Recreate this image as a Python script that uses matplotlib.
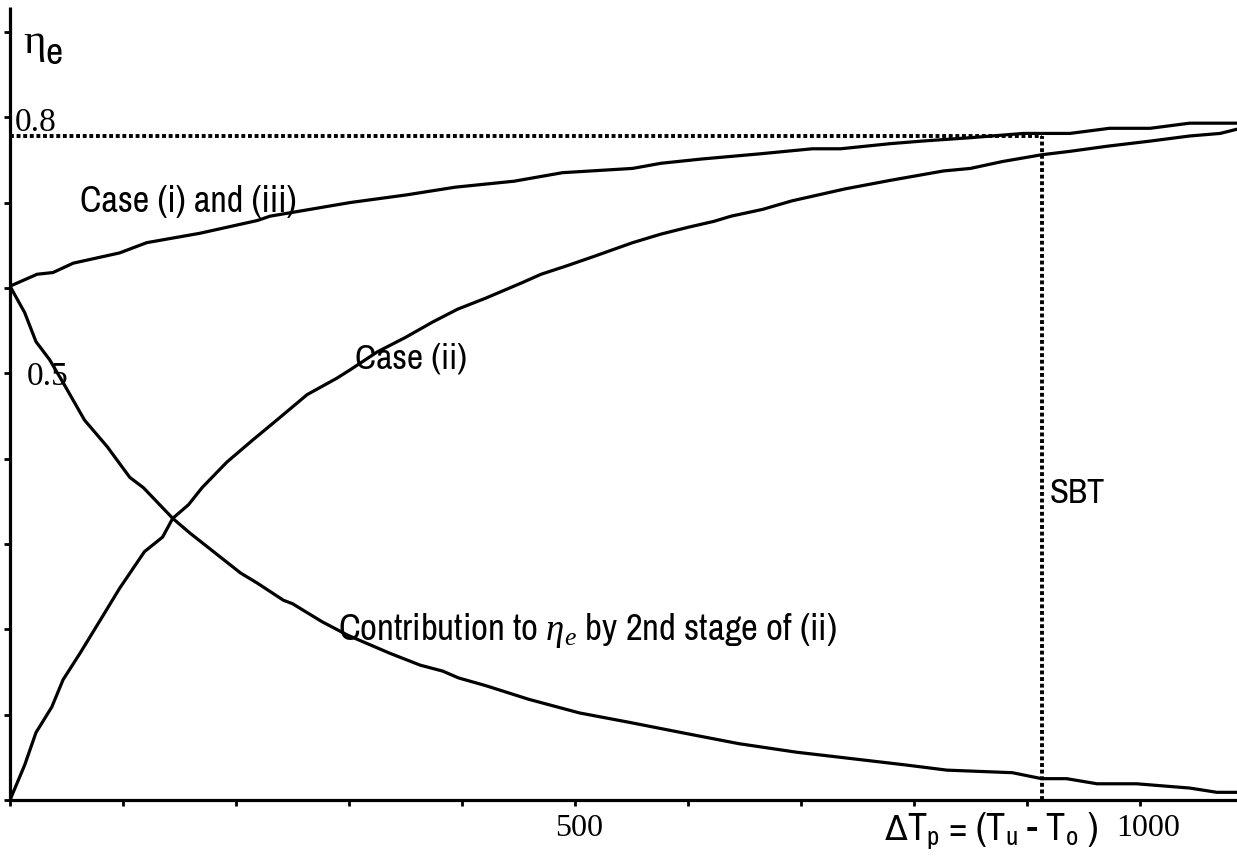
import matplotlib
matplotlib.use("Agg")
import matplotlib.pyplot as plt
from matplotlib import font_manager

# ---- data ----
case13_x = [0, 24, 38, 56, 97, 121, 168, 219, 230, 301, 351, 394, 446, 489, 551, 576, 612, 663,
            710, 735, 779, 807, 850, 897, 938, 973, 1009, 1044, 1086]
case13_y = [0.602, 0.616, 0.618, 0.629, 0.641, 0.653, 0.664, 0.679, 0.684, 0.700, 0.709, 0.718,
            0.725, 0.735, 0.740, 0.746, 0.751, 0.757, 0.763, 0.763, 0.769, 0.772, 0.776, 0.781,
            0.781, 0.787, 0.787, 0.793, 0.793]

case2_x = [0, 13, 23, 37, 47, 62, 80, 97, 119, 135, 144, 158, 170, 192, 215, 236, 263, 289, 301,
           325, 350, 374, 396, 421, 453, 470, 493, 517, 551, 576, 600, 623, 638, 666, 692, 739,
           779, 826, 850, 878, 913, 938, 971, 1009, 1044, 1071, 1086]
case2_y = [0.0, 0.041, 0.079, 0.109, 0.141, 0.172, 0.211, 0.248, 0.291, 0.308, 0.330, 0.346,
           0.366, 0.396, 0.422, 0.445, 0.475, 0.494, 0.504, 0.525, 0.542, 0.560, 0.575, 0.588,
           0.606, 0.616, 0.626, 0.637, 0.653, 0.663, 0.671, 0.678, 0.684, 0.692, 0.702, 0.716,
           0.726, 0.737, 0.740, 0.748, 0.756, 0.760, 0.766, 0.772, 0.778, 0.781, 0.786]

contrib_x = [0, 13, 23, 35, 47, 66, 86, 106, 118, 144, 159, 204, 219, 242, 250, 276, 299, 336,
             363, 383, 397, 421, 459, 504, 548, 598, 645, 696, 735, 793, 829, 887, 913, 935, 962,
             997, 1044, 1068, 1086]
contrib_y = [0.602, 0.571, 0.537, 0.516, 0.489, 0.445, 0.414, 0.378, 0.366, 0.330, 0.313, 0.266,
             0.254, 0.234, 0.230, 0.209, 0.193, 0.172, 0.158, 0.151, 0.143, 0.134, 0.118, 0.102,
             0.091, 0.078, 0.066, 0.056, 0.050, 0.041, 0.035, 0.032, 0.025, 0.025, 0.019, 0.019,
             0.014, 0.009, 0.009]

sbt_x = 913
sbt_y = 0.778

x_ticks = list(range(0, 1100, 100))
y_ticks = [round(0.1 * i, 1) for i in range(0, 10)]

# ---- fonts ----
avail = {f.name for f in font_manager.fontManager.ttflist}
narrow = 'Roboto'
for cand in ['Liberation Sans Narrow', 'Arial Narrow', 'Archivo Narrow', 'PT Sans Narrow',
             'Roboto Condensed', 'IBM Plex Sans Condensed', 'Open Sans Condensed']:
    if cand in avail:
        narrow = cand
        break
serif = 'Liberation Serif'

plt.rcParams['mathtext.fontset'] = 'custom'
plt.rcParams['mathtext.rm'] = narrow
plt.rcParams['mathtext.it'] = 'Liberation Serif:italic'
plt.rcParams['mathtext.bf'] = 'Liberation Serif:bold'
plt.rcParams['mathtext.sf'] = narrow

W, H = 1237, 856
fig = plt.figure(figsize=(W / 100, H / 100), dpi=100)
ax = fig.add_axes([10 / W, (H - 800) / H, (W - 10) / W, (800 - 7) / H])

xmax = (W - 10) / 1.13
ymax = (800 - 7) / 853.5
ax.set_xlim(0, xmax)
ax.set_ylim(0, ymax)

for s in ['top', 'right']:
    ax.spines[s].set_visible(False)
for s in ['left', 'bottom']:
    ax.spines[s].set_linewidth(2.3)
    ax.spines[s].set_capstyle('butt')

ax.set_xticks(x_ticks)
ax.set_yticks(y_ticks)
ax.set_xticklabels([])
ax.set_yticklabels([])
ax.tick_params(direction='out', length=4, width=2.0)

lw = 2.3
ax.plot(case13_x, case13_y, color='black', lw=lw, solid_joinstyle='round')
ax.plot(case2_x, case2_y, color='black', lw=lw, solid_joinstyle='round')
ax.plot(contrib_x, contrib_y, color='black', lw=lw, solid_joinstyle='round')

dots = (0, (1.0, 0.7))
ax.plot([0, sbt_x], [sbt_y, sbt_y], color='black', lw=2.8, linestyle=dots, dash_capstyle='butt')
ax.plot([sbt_x, sbt_x], [0, sbt_y], color='black', lw=2.8, linestyle=dots, dash_capstyle='butt')

# ---- text helpers (pixel positions from top-left of the picture) ----
renderer = fig.canvas.get_renderer()


def px_text(x0, x1, baseline, s, family, size, fit=True, **kw):
    """Place text starting at pixel x0 with its baseline at pixel row `baseline`;
    if fit, scale font so it ends near x1."""
    t = fig.text(x0 / W, (H - baseline) / H, s, family=family, fontsize=size,
                 ha='left', va='baseline', **kw)
    if fit:
        for _ in range(3):
            bb = t.get_window_extent(renderer=renderer)
            if bb.width > 0:
                t.set_fontsize(t.get_fontsize() * (x1 - x0) / bb.width)
    return t


# tick-value labels (serif)
px_text(15, 60, 131, '0.8', serif, 24, fit=False)
px_text(27, 68, 385, '0.5', serif, 24, fit=False)
px_text(555, 602, 836, '500', serif, 23, fit=False)
px_text(1116, 1175, 836, '1000', serif, 23, fit=False)

# y axis name
px_text(23, 45, 53, 'η', serif, 31, fit=False)
px_text(45, 62, 64, 'e', narrow, 27, fit=False)

# curve labels
px_text(80, 297, 212, 'Case (i) and (iii)', narrow, 26)
px_text(355, 467, 368, 'Case (ii)', narrow, 26)
px_text(1050, 1098, 503, 'SBT', narrow, 25, fit=False)
px_text(338, 837, 640, r'Contribution to $\eta_e$ by 2nd stage of (ii)', narrow, 26)

# x axis name
px_text(885, 905, 840, 'Δ', 'DejaVu Sans', 24, fit=False)
px_text(907, 1098, 840, r'T$_\mathrm{p}$ = (T$_\mathrm{u}$ - T$_\mathrm{o}$ )', narrow, 20)

fig.savefig('out.png', dpi=100)
